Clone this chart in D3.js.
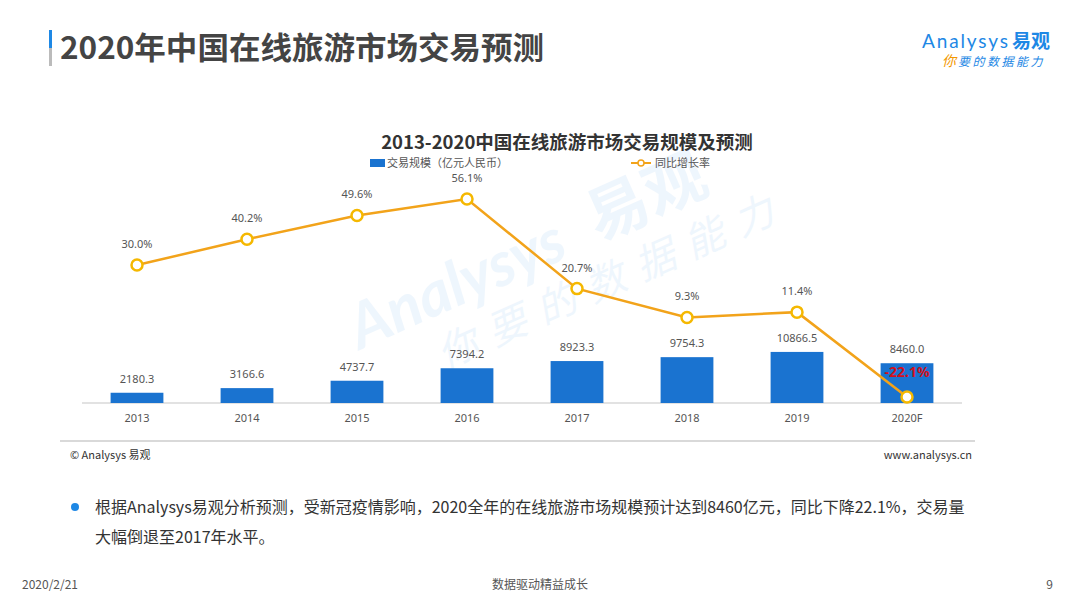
<!DOCTYPE html>
<html>
<head>
<meta charset="utf-8">
<script src="https://cdn.jsdelivr.net/npm/d3@7"></script>
<style>
body{margin:0;background:#fff;}
svg{display:block;font-family:"Noto Sans CJK SC","Noto Sans",sans-serif;}
</style>
</head>
<body>
<svg id="chart" width="1080" height="608"></svg>
<script>
const years = ["2013","2014","2015","2016","2017","2018","2019","2020F"]
const volume = [2180.3, 3166.6, 4737.7, 7394.2, 8923.3, 9754.3, 10866.5, 8460.0]
const growth = [30.0, 40.2, 49.6, 56.1, 20.7, 9.3, 11.4, -22.1]

const blue = "#1a73d0"
const orange = "#f2a31a"
const gray = "#555"

const svg = d3.select("#chart")

// page header
svg.append("rect").attr("x", 49).attr("y", 30).attr("width", 3).attr("height", 18).attr("fill", "#1e88e5")
svg.append("rect").attr("x", 49).attr("y", 48).attr("width", 3).attr("height", 18).attr("fill", "#bbb")
svg.append("text").attr("x", 60).attr("y", 59)
	.attr("font-size", 31).attr("font-weight", "bold").attr("fill", "#444")
	.attr("textLength", 484).attr("lengthAdjust", "spacingAndGlyphs")
	.text("2020年中国在线旅游市场交易预测")

// logo
let logo = svg.append("g")
logo.append("text").attr("x", 922).attr("y", 48).attr("font-size", 19).attr("fill", "#1e88e5")
	.attr("font-family", "Lato, sans-serif").attr("textLength", 86).text("Analysys")
logo.append("text").attr("x", 1012).attr("y", 48).attr("font-size", 19).attr("font-weight", "bold").attr("fill", "#1e88e5").text("易观")
logo.append("text").attr("x", 942).attr("y", 66).attr("font-size", 14).attr("font-style", "italic").attr("fill", "#f39800").text("你")
logo.append("text").attr("x", 958).attr("y", 66).attr("font-size", 12).attr("font-style", "italic").attr("fill", "#1e88e5")
	.attr("letter-spacing", 2.5).text("要的数据能力")

// watermark
let wm = svg.append("g").attr("transform", "translate(360,350) rotate(-24)").attr("opacity", 0.07).attr("fill", "#1e88e5")
wm.append("text").attr("x", 0).attr("y", 0).attr("font-size", 62).attr("font-style", "italic").attr("font-family", "Lato, sans-serif").attr("font-weight", "bold").text("Analysys")
wm.append("text").attr("x", 262).attr("y", -2).attr("font-size", 62).attr("font-weight", "bold").text("易观")
wm.append("text").attr("x", 70).attr("y", 52).attr("font-size", 40).attr("letter-spacing", 14).attr("font-style", "italic").text("你要的数据能力")

// chart title
svg.append("text").attr("x", 567).attr("y", 149).attr("text-anchor", "middle")
	.attr("font-size", 18.5).attr("font-weight", "bold").attr("fill", "#333")
	.text("2013-2020中国在线旅游市场交易规模及预测")

// legend
svg.append("rect").attr("x", 370).attr("y", 159).attr("width", 15).attr("height", 8).attr("fill", blue)
svg.append("text").attr("x", 387).attr("y", 167).attr("font-size", 11).attr("fill", "#555").text("交易规模（亿元人民币）")
svg.append("line").attr("x1", 631).attr("x2", 651).attr("y1", 163).attr("y2", 163).attr("stroke", orange).attr("stroke-width", 2)
svg.append("circle").attr("cx", 641).attr("cy", 163).attr("r", 3).attr("fill", "#fff").attr("stroke", orange).attr("stroke-width", 1.5)
svg.append("text").attr("x", 655).attr("y", 167).attr("font-size", 11).attr("fill", "#555").text("同比增长率")

// scales
const x = d3.scaleBand().domain(years).range([82, 962]).paddingInner(0.52).paddingOuter(0.26)
const yBar = d3.scaleLinear().domain([0, 1000]).range([403, 398.3])
const yLine = d3.scaleLinear().domain([0, 56.1]).range([341, 199])

// axis
const xAxis = svg.append("g").attr("transform", "translate(0,403)")
	.call(d3.axisBottom(x).tickSize(0).tickPadding(11))
xAxis.select(".domain").attr("stroke", "#d9d9d9").attr("stroke-width", 1.5).attr("d", "M82,0H962")
xAxis.selectAll("text").attr("font-size", 11).attr("fill", gray).attr("font-family", "Noto Sans, sans-serif")

// bars
svg.append("g").selectAll("rect").data(volume).join("rect")
	.attr("x", (d, i) => x(years[i]))
	.attr("width", x.bandwidth())
	.attr("y", d => yBar(d))
	.attr("height", d => 403 - yBar(d))
	.attr("fill", blue)
svg.append("g").selectAll("text").data(volume).join("text")
	.attr("x", (d, i) => x(years[i]) + x.bandwidth() / 2)
	.attr("y", d => yBar(d) - 10)
	.attr("text-anchor", "middle").attr("font-size", 11).attr("fill", gray)
	.attr("font-family", "Noto Sans, sans-serif")
	.text(d => d.toFixed(1))

// line
const cx = i => x(years[i]) + x.bandwidth() / 2
svg.append("path").datum(growth)
	.attr("fill", "none").attr("stroke", orange).attr("stroke-width", 2.5)
	.attr("d", d3.line().x((d, i) => cx(i)).y(d => yLine(d)))
svg.append("g").selectAll("circle").data(growth).join("circle")
	.attr("cx", (d, i) => cx(i)).attr("cy", d => yLine(d)).attr("r", 5.5)
	.attr("fill", "#fff").attr("stroke", "#f5b800").attr("stroke-width", 2.5)
svg.append("g").selectAll("text").data(growth).join("text")
	.attr("x", (d, i) => cx(i))
	.attr("y", d => d < 0 ? yLine(d) - 20 : yLine(d) - 17)
	.attr("text-anchor", "middle")
	.attr("font-size", d => d < 0 ? 14 : 11)
	.attr("font-weight", d => d < 0 ? "bold" : "normal")
	.attr("fill", d => d < 0 ? "#d0101b" : gray)
	.attr("font-family", "Noto Sans, sans-serif")
	.text(d => d.toFixed(1) + "%")

// source line
svg.append("line").attr("x1", 60).attr("x2", 975).attr("y1", 441).attr("y2", 441).attr("stroke", "#ccc").attr("stroke-width", 1.5)
svg.append("text").attr("x", 70).attr("y", 459).attr("font-size", 11).attr("fill", "#333").text("© Analysys 易观")
svg.append("text").attr("x", 972).attr("y", 459).attr("text-anchor", "end").attr("font-size", 11).attr("fill", "#333").text("www.analysys.cn")

// note
svg.append("circle").attr("cx", 75).attr("cy", 507).attr("r", 4).attr("fill", "#1e88e5")
svg.append("text").attr("x", 95).attr("y", 513).attr("font-size", 16).attr("fill", "#333")
	.text("根据Analysys易观分析预测，受新冠疫情影响，2020全年的在线旅游市场规模预计达到8460亿元，同比下降22.1%，交易量")
svg.append("text").attr("x", 95).attr("y", 543).attr("font-size", 16).attr("fill", "#333")
	.text("大幅倒退至2017年水平。")

// footer
svg.append("text").attr("x", 22).attr("y", 589).attr("font-size", 12).attr("fill", "#555").text("2020/2/21")
svg.append("text").attr("x", 540).attr("y", 589).attr("text-anchor", "middle").attr("font-size", 12).attr("fill", "#555").text("数据驱动精益成长")
svg.append("text").attr("x", 1053).attr("y", 589).attr("text-anchor", "end").attr("font-size", 12).attr("fill", "#555").text("9")
</script>
</body>
</html>
